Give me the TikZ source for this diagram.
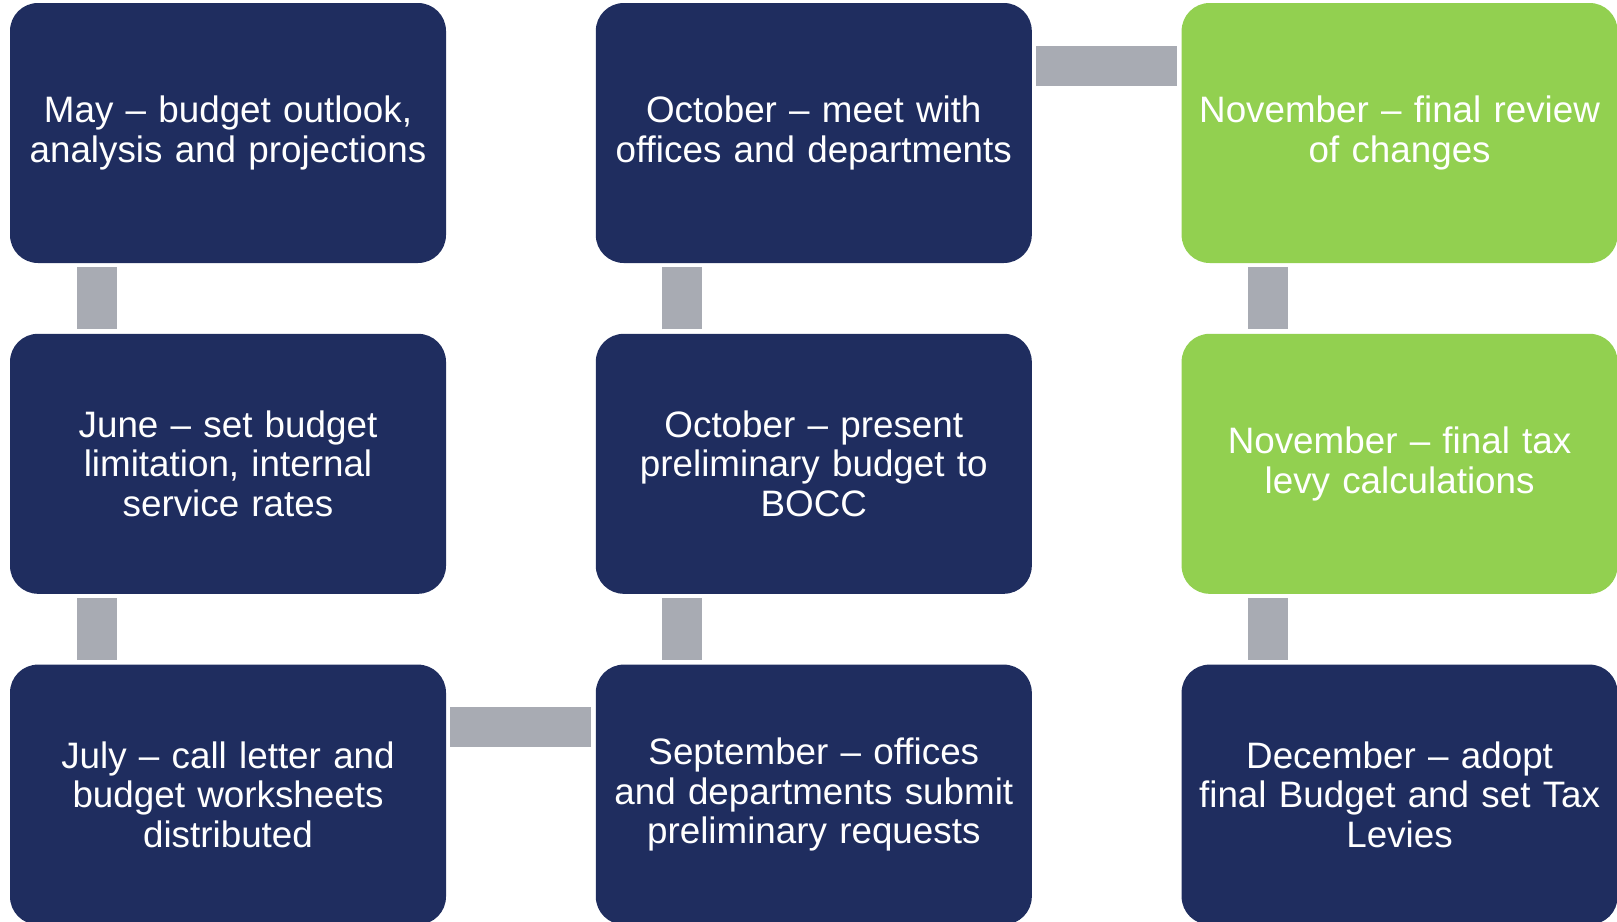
\documentclass[tikz,border=0pt]{standalone}
\usepackage{fontspec}
\setmainfont{Liberation Sans}
\usetikzlibrary{positioning}
\definecolor{navy}{HTML}{1F2D5F}
\definecolor{leaf}{HTML}{92D050}
\definecolor{joint}{HTML}{A8ABB3}
\tikzset{
phase/.style={
	  fill=navy, text=white, rounded corners=14pt,
	    minimum width=218pt, minimum height=130pt, text width=216pt,
    align=center, inner sep=0pt, font=\fontsize{18.4}{19.8}\selectfont},
final/.style={phase, fill=leaf},
link/.style={draw=joint, line width=20pt}
}

\begin{document}
\begin{tikzpicture}[node distance=35pt and 74.5pt]
	\useasboundingbox (0,0) rectangle (808.5pt,-460.5pt);
	\clip (0,0) rectangle (808.5pt,-460.5pt);
	\node[phase] (may) at (114pt,-66.5pt) {May -- budget outlook,\\analysis and projections};
	\node[phase, below=of may] (june) {June -- set budget\\limitation, internal\\service rates};
	\node[phase, below=of june] (july) {July -- call letter and\\budget worksheets\\distributed};
	\node[phase, right=of july] (sept) {September -- offices\\and departments submit\\preliminary requests};
	\node[phase, above=of sept] (octpre) {October -- present\\preliminary budget to\\BOCC};
	\node[phase, above=of octpre] (octmeet) {October -- meet with\\offices and departments};
	\node[final, right=of octmeet] (novrev) {November -- final review\\of changes};
	\node[final, below=of novrev] (novtax) {November -- final tax\\levy calculations};
	\node[phase, below=of novtax] (dec) {December -- adopt\\final Budget and set Tax\\Levies};

	\draw[link] ([shift={(43.5pt,-2pt)}]may.south west) -- ([shift={(43.5pt,2pt)}]june.north west);
	\draw[link] ([shift={(43.5pt,-2pt)}]june.south west) -- ([shift={(43.5pt,2pt)}]july.north west);
	\draw[link] ([shift={(2pt,-31.5pt)}]july.north east) -- ([shift={(-2pt,-31.5pt)}]sept.north west);
	\draw[link] ([shift={(43.5pt,2pt)}]sept.north west) -- ([shift={(43.5pt,-2pt)}]octpre.south west);
	\draw[link] ([shift={(43.5pt,2pt)}]octpre.north west) -- ([shift={(43.5pt,-2pt)}]octmeet.south west);
	\draw[link] ([shift={(2pt,-31.5pt)}]octmeet.north east) -- ([shift={(-2pt,-31.5pt)}]novrev.north west);
	\draw[link] ([shift={(43.5pt,-2pt)}]novrev.south west) -- ([shift={(43.5pt,2pt)}]novtax.north west);
	\draw[link] ([shift={(43.5pt,-2pt)}]novtax.south west) -- ([shift={(43.5pt,2pt)}]dec.north west);
\end{tikzpicture}
\end{document}
